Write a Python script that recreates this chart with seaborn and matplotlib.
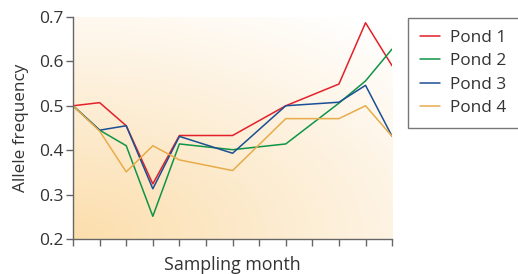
import numpy as np
import pandas as pd
import seaborn as sns
import matplotlib
matplotlib.use('Agg')
from matplotlib import pyplot as plt
from matplotlib.colors import LinearSegmentedColormap

### DATA ###
months = [0, 1, 2, 3, 4, 6, 8, 10, 11, 12]
pond1 = [0.500, 0.507, 0.455, 0.324, 0.433, 0.433, 0.500, 0.549, 0.687, 0.590]
pond2 = [0.500, 0.445, 0.410, 0.251, 0.414, 0.401, 0.414, 0.506, 0.556, 0.628]
pond3 = [0.500, 0.445, 0.455, 0.313, 0.431, 0.393, 0.500, 0.508, 0.546, 0.431]
pond4 = [0.500, 0.443, 0.351, 0.410, 0.378, 0.354, 0.471, 0.471, 0.500, 0.431]
ponds = ['Pond 1', 'Pond 2', 'Pond 3', 'Pond 4']
colours = ['#e3212b', '#0e9447', '#1b4f93', '#e8ab4a']

df = pd.DataFrame({
    'month': months * 4,
    'freq': pond1 + pond2 + pond3 + pond4,
    'pond': [p for p in ponds for _ in months],
})

sns.set_style('white')
plt.rcParams['font.family'] = ['Open Sans', 'DejaVu Sans']
plt.rcParams['text.color'] = '#333333'

fig = plt.figure(figsize=(5.18, 2.74), dpi=100)
ax = fig.add_axes([0.141, 0.128, 0.616, 0.81])

# orange glow in the lower left corner, fading to white
gx, gy = np.meshgrid(np.linspace(0, 1, 200), np.linspace(0, 1, 200))
dist = np.sqrt((gx * 0.9) ** 2 + (gy * 1.1) ** 2) / 1.35
cmap = LinearSegmentedColormap.from_list('glow', ['#fcdeac', '#fdeed6', '#ffffff'])
ax.imshow(dist, cmap=cmap, origin='lower', extent=[0, 12, 0.2, 0.7],
          aspect='auto', zorder=0, vmin=0, vmax=1)

sns.lineplot(data=df, x='month', y='freq', hue='pond', palette=colours,
             linewidth=1.1, ax=ax, zorder=2)

ax.set_xlim(0, 12)
ax.set_ylim(0.2, 0.7)
ax.set_xticks(range(13))
ax.set_xticklabels([])
ax.set_yticks([0.2, 0.3, 0.4, 0.5, 0.6, 0.7])
ax.set_yticklabels(['0.2', '0.3', '0.4', '0.5', '0.6', '0.7'])
ax.tick_params(axis='both', direction='out', length=5, width=1,
               color='#666666', labelsize=12.5, labelcolor='#333333',
               bottom=True, left=True, pad=2)
for side in ['top', 'right']:
    ax.spines[side].set_visible(False)
for side in ['left', 'bottom']:
    ax.spines[side].set_color('#666666')
    ax.spines[side].set_linewidth(1)
ax.set_xlabel('Sampling month', fontsize=12.8, color='#333333', labelpad=5)
ax.set_ylabel('Allele frequency', fontsize=12.3, color='#333333', labelpad=7)

leg = ax.legend(loc='upper left', bbox_to_anchor=(0.788, 0.934),
                bbox_transform=fig.transFigure, fontsize=12.4,
                frameon=True, fancybox=False, borderpad=0.7,
                handlelength=1.15, handletextpad=0.6, labelspacing=0.42,
                borderaxespad=0)
leg.get_frame().set_edgecolor('#555555')
leg.get_frame().set_linewidth(1)
for line in leg.get_lines():
    line.set_linewidth(1.1)

fig.savefig('out.png', dpi=100)
